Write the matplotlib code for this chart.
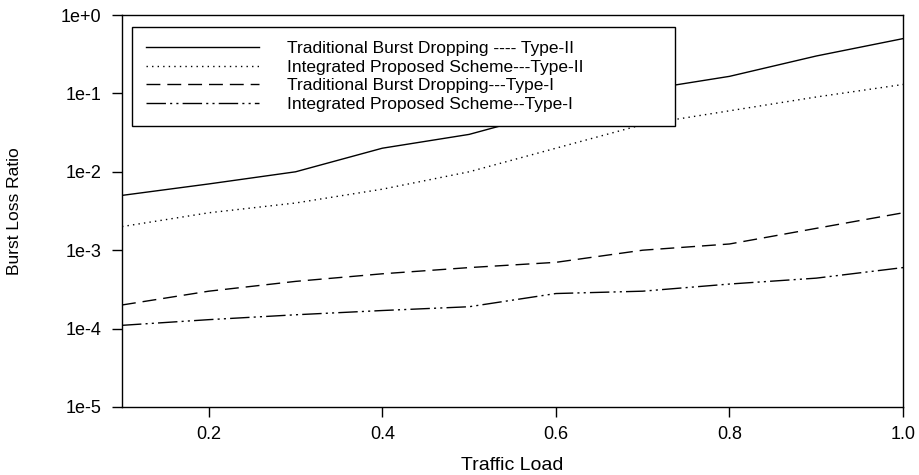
import numpy as np
import matplotlib
matplotlib.use('Agg')
import matplotlib.pyplot as plt
from matplotlib.ticker import FixedLocator, FixedFormatter, NullLocator

plt.rcParams['font.family'] = ['Liberation Sans', 'DejaVu Sans']

# Data
load = [0.1, 0.2, 0.3, 0.4, 0.5, 0.6, 0.7, 0.8, 0.9, 1.0]
trad_type2 = [5e-3, 7e-3, 1e-2, 2e-2, 3e-2, 6e-2, 1.1e-1, 1.65e-1, 3e-1, 5e-1]
prop_type2 = [2e-3, 3e-3, 4e-3, 6e-3, 1e-2, 2e-2, 4e-2, 6e-2, 9e-2, 1.3e-1]
trad_type1 = [2e-4, 3e-4, 4e-4, 5e-4, 6e-4, 7e-4, 1e-3, 1.2e-3, 1.9e-3, 3e-3]
prop_type1 = [1.1e-4, 1.3e-4, 1.5e-4, 1.7e-4, 1.9e-4, 2.8e-4, 3e-4, 3.7e-4, 4.4e-4, 6e-4]

labels = ['Traditional Burst Dropping ---- Type-II',
          'Integrated Proposed Scheme---Type-II',
          'Traditional Burst Dropping---Type-I',
          'Integrated Proposed Scheme--Type-I']

y_ticks = [1e-5, 1e-4, 1e-3, 1e-2, 1e-1, 1e0]
y_tick_labels = ['1e-5', '1e-4', '1e-3', '1e-2', '1e-1', '1e+0']
x_ticks = [0.2, 0.4, 0.6, 0.8, 1.0]

fig = plt.figure(figsize=(9.2, 4.75), dpi=100)
ax = fig.add_axes([0.1326, 0.1432, 0.849, 0.8252])

ax.plot(load, trad_type2, color='black', lw=1.0, ls='-', label=labels[0])
ax.plot(load, prop_type2, color='black', lw=1.0, ls=(0, (1, 3)), label=labels[1])
ax.plot(load, trad_type1, color='black', lw=1.0, ls=(0, (10, 5)), label=labels[2])
ax.plot(load, prop_type1, color='black', lw=1.0, ls=(0, (14, 3, 1.5, 3, 1.5, 3)), label=labels[3])

ax.set_yscale('log')
ax.set_xlim(0.1, 1.0)
ax.set_ylim(1e-5, 1e0)
ax.yaxis.set_major_locator(FixedLocator(y_ticks))
ax.yaxis.set_major_formatter(FixedFormatter(y_tick_labels))
ax.yaxis.set_minor_locator(NullLocator())
ax.set_xticks(x_ticks)
ax.set_xticklabels(['%.1f' % v for v in x_ticks])

ax.tick_params(direction='out', length=7, width=1, labelsize=13, colors='black')
ax.tick_params(axis='y', pad=8)
ax.tick_params(axis='x', pad=7)
for s in ax.spines.values():
    s.set_linewidth(1.0)
    s.set_color('black')

ax.set_xlabel('Traffic Load', fontsize=14, labelpad=10)
ax.set_ylabel('Burst Loss Ratio', fontsize=12.5, labelpad=28)

leg = ax.legend(loc='upper left', bbox_to_anchor=(0.0128, 0.969, 0.695, 0.0),
                mode='expand', fontsize=12.5,
                frameon=True, fancybox=False, edgecolor='black', framealpha=1,
                handlelength=6.5, handletextpad=1.6, labelspacing=0.2,
                borderpad=0.8, borderaxespad=0)
leg.get_frame().set_linewidth(1.0)

fig.savefig('out.png', dpi=100)
